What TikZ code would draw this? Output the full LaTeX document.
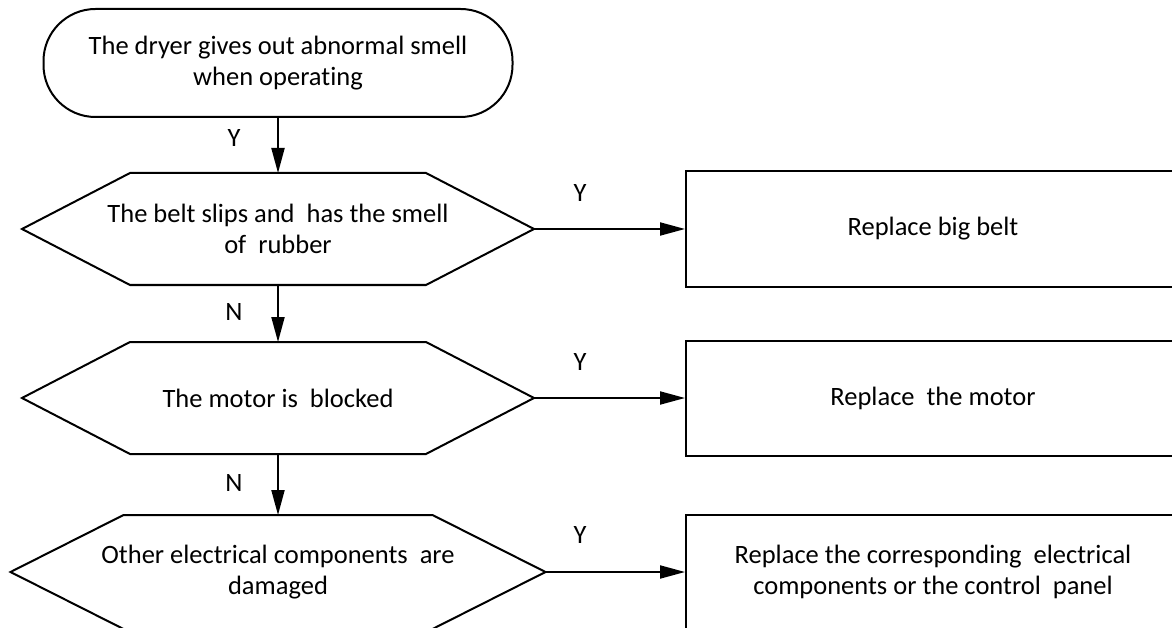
\documentclass[tikz,border=0pt]{standalone}
\usepackage{fontspec}
\setmainfont{Carlito}[Ligatures=NoCommon]
\usetikzlibrary{arrows.meta}

\begin{document}
\begin{tikzpicture}[x=1pt, y=-1pt,
  font=\fontsize{26.5}{31}\selectfont, line width=2pt,
  term/.style={draw, rounded corners=52pt, align=center, minimum width=469pt, minimum height=108pt},
  cond/.style={align=center, minimum height=112pt, inner sep=0pt, outer sep=0pt},
  act/.style={draw, align=center, minimum width=494pt, minimum height=115pt},
  arr/.style={-{Triangle[length=25pt, width=13pt]}},
  lbl/.style={inner sep=0pt}]
\useasboundingbox (0,0) rectangle (1172,628);
\clip (0,0) rectangle (1172,628);
% question and checks
\node[term] (start) at (278,63) {The dryer gives out abnormal smell\\when operating};
\node[cond, minimum width=512pt] (belt) at (278,229) {The belt slips and~ has the smell\\of~ rubber};
\node[cond, minimum width=512pt] (motor) at (278,398) {The motor is~ blocked};
\node[cond, minimum width=535pt, minimum height=114pt] (elec) at (278,572) {Other electrical components~ are\\damaged};
\foreach \n/\d in {belt/108, motor/108, elec/113}
  \draw (\n.west) -- ([xshift=\d pt]\n.north west) -- ([xshift=-\d pt]\n.north east) -- (\n.east)
    -- ([xshift=-\d pt]\n.south east) -- ([xshift=\d pt]\n.south west) -- cycle;
% remedies
\node[act] (rbelt) at (933,229) {Replace big belt};
\node[act] (rmotor) at (933,398) {Replace~ the motor};
\node[act] (relec) at (933,572) {Replace the corresponding~ electrical\\components or the control~ panel};
% labels
\node[lbl] (y0) at (234,138) {Y};
\node[lbl] (y1) at (580,193) {Y};
\node[lbl] (n1) at (234,312) {N};
\node[lbl] (y2) at (580,362) {Y};
\node[lbl] (n2) at (234,483) {N};
\node[lbl] (y3) at (580,535) {Y};
% connectors
\draw[arr] (start.south) -- (belt.north);
\draw[arr] (belt.south) -- (motor.north);
\draw[arr] (motor.south) -- (elec.north);
\draw[arr] (belt.east) -- (rbelt.west);
\draw[arr] (motor.east) -- (rmotor.west);
\draw[arr] (elec.east) -- (relec.west);
\end{tikzpicture}
\end{document}
